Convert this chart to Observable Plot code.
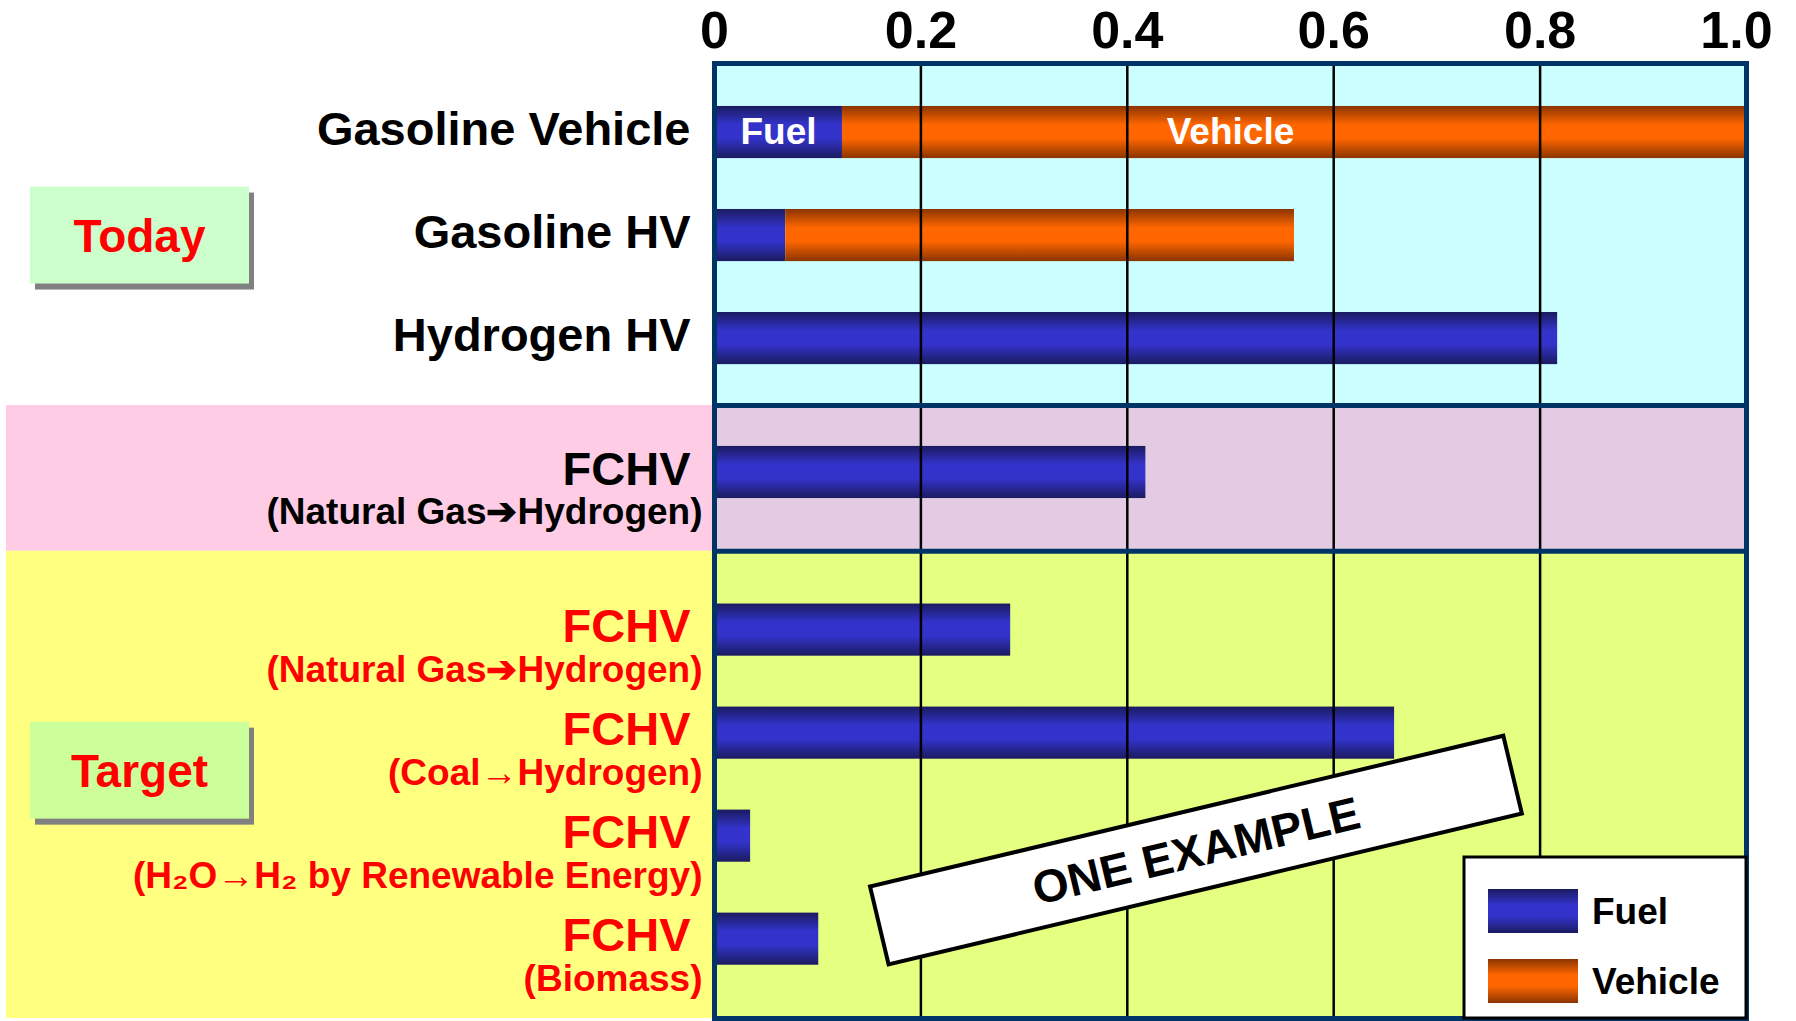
<!DOCTYPE html>
<html>
<head>
<meta charset="utf-8">
<script src="https://cdn.jsdelivr.net/npm/d3@7"></script>
<script src="https://cdn.jsdelivr.net/npm/@observablehq/plot@0.6"></script>
<style>
  html, body { margin: 0; padding: 0; background: #ffffff; }
  #chart { width: 1796px; height: 1021px; }
</style>
</head>
<body>
<div id="chart"></div>
<script>
// ---------------- DATA ----------------
const vehicles = ["Gasoline Vehicle", "Gasoline HV", "Hydrogen HV", "FCHV", "FCHV", "FCHV", "FCHV", "FCHV"];
const pathways = ["", "", "", "(Natural Gas➔Hydrogen)", "(Natural Gas➔Hydrogen)", "(Coal→Hydrogen)", "(H₂O→H₂ by Renewable Energy)", "(Biomass)"];
const sections = ["Today", "Today", "Today", "Current FCHV", "Target", "Target", "Target", "Target"];
const fuelValues = [0.124, 0.069, 0.817, 0.418, 0.287, 0.659, 0.035, 0.101];
const vehicleValues = [0.876, 0.493, 0, 0, 0, 0, 0, 0];
const seriesNames = ["Fuel", "Vehicle"];
const xTicks = [0, 0.2, 0.4, 0.6, 0.8, 1.0];
const xTickLabels = ["0", "0.2", "0.4", "0.6", "0.8", "1.0"];
const sectionNames = ["Today", "Current FCHV", "Target"];
const sectionBoxLabels = ["Today", "", "Target"];
const bannerText = "ONE EXAMPLE";

// ---------------- STYLE / LAYOUT ----------------
const FONT = "'Liberation Sans', Arial, Helvetica, sans-serif";
const NAVY = "#003366";
const plotFills = ["#ccffff", "#e3cce3", "#e5ff80"];
const marginFills = [null, "#ffcce5", "#ffff80"];
const boxFills = ["#ccffcc", null, "#ccff99"];
const labelColors = ["#000000", "#000000", "#ff0000"];
const SECTION_GAPS = [0, 0.3, 0.53]; // extra spacing before each section, in row units
const BAR_HALF = 0.253;   // half bar thickness, in row units
const TOP_PAD = 0.67, BOTTOM_PAD = 0.77;
const BANNER = {x: 0.467, y: 6.97, angle: -13.4, w: 651, h: 80};

// ---------------- DERIVED TABLES ----------------
const sectionOffset = d3.cumsum(SECTION_GAPS);
const sectionIndex = sections.map(s => sectionNames.indexOf(s));
const rows = vehicles.map((v, i) => ({
  i, vehicle: v, pathway: pathways[i], s: sectionIndex[i],
  slot: i + sectionOffset[sectionIndex[i]],
  fuel: fuelValues[i], veh: vehicleValues[i],
  color: labelColors[sectionIndex[i]]
}));
const segs = rows.flatMap(r => [
  {...r, series: seriesNames[0], x1: 0, x2: r.fuel},
  {...r, series: seriesNames[1], x1: r.fuel, x2: r.fuel + r.veh}
]).filter(d => d.x2 > d.x1);

const yTop = d3.min(rows, r => r.slot) - TOP_PAD;
const yBottom = d3.max(rows, r => r.slot) + BOTTOM_PAD;
const sectionExtents = sectionNames.map((name, s) => {
  const sl = rows.filter(r => r.s === s).map(r => r.slot);
  return {name, s, first: d3.min(sl), last: d3.max(sl), mid: (d3.min(sl) + d3.max(sl)) / 2,
          plotFill: plotFills[s], marginFill: marginFills[s], box: boxFills[s], label: sectionBoxLabels[s]};
});
sectionExtents.forEach((e, k) => {
  e.top = k === 0 ? yTop : (sectionExtents[k - 1].last + e.first) / 2;
  e.bottom = k === sectionExtents.length - 1 ? yBottom : (e.last + sectionExtents[k + 1].first) / 2;
});
const boundaries = sectionExtents.slice(1).map(e => e.top);

// ---------------- SVG HELPERS ----------------
const NS = "http://www.w3.org/2000/svg";
function el(tag, attrs = {}, text) {
  const e = document.createElementNS(NS, tag);
  for (const [k, v] of Object.entries(attrs)) e.setAttribute(k, v);
  if (text != null) e.textContent = text;
  return e;
}
function gradient(id, edge, mid) {
  const g = el("linearGradient", {id, x1: 0, y1: 0, x2: 0, y2: 1});
  [[0, edge], [0.36, mid], [0.62, mid], [1, edge]].forEach(([o, c]) =>
    g.appendChild(el("stop", {offset: o, "stop-color": c})));
  return g;
}
const gradIds = ["gradFuel", "gradVehicle"];

function marginDecor(index, scales, values, dim) {
  const g = el("g");
  const defs = el("defs");
  defs.appendChild(gradient(gradIds[0], "#1b1b60", "#3333cc"));
  defs.appendChild(gradient(gradIds[1], "#8a3400", "#ff6600"));
  g.appendChild(defs);
  for (const s of sectionExtents) {
    if (!s.marginFill) continue;
    const y1 = scales.y(s.top), y2 = scales.y(s.bottom);
    g.appendChild(el("rect", {x: 6, y: Math.min(y1, y2), width: dim.marginLeft - 6,
      height: Math.abs(y2 - y1), fill: s.marginFill}));
  }
  return g;
}

function sectionBoxes(index, scales, values, dim) {
  const g = el("g");
  const bx = 30, bw = 219, bh = 97;
  for (const s of sectionExtents) {
    if (!s.box) continue;
    const cy = scales.y(s.mid) - (s.s === 2 ? 14 : 0);
    g.appendChild(el("rect", {x: bx + 5, y: cy - bh / 2 + 6, width: bw, height: bh, fill: "#808080"}));
    g.appendChild(el("rect", {x: bx, y: cy - bh / 2, width: bw, height: bh, fill: s.box}));
    g.appendChild(el("text", {x: bx + bw / 2, y: cy, dy: "0.36em", "text-anchor": "middle",
      fill: "#ff0000", "font-size": 46, "font-weight": "bold", "font-family": FONT}, s.label));
  }
  return g;
}

function banner(index, scales, values, dim) {
  const cx = scales.x(BANNER.x), cy = scales.y(BANNER.y);
  const g = el("g", {transform: `translate(${cx},${cy}) rotate(${BANNER.angle})`});
  g.appendChild(el("rect", {x: -BANNER.w / 2, y: -BANNER.h / 2, width: BANNER.w, height: BANNER.h,
    fill: "#ffffff", stroke: "#000000", "stroke-width": 4}));
  g.appendChild(el("text", {x: 0, y: 0, dy: "0.36em", "text-anchor": "middle", fill: "#000",
    "font-size": 46, "font-weight": "bold", "font-family": FONT}, bannerText));
  return g;
}

function legend(index, scales, values, dim) {
  const right = dim.width - dim.marginRight, bottom = dim.height - dim.marginBottom;
  const w = 282, h = 161;
  const g = el("g", {transform: `translate(${right - w},${bottom - h})`});
  g.appendChild(el("rect", {x: 0, y: 0, width: w, height: h, fill: "#ffffff", stroke: "#000000", "stroke-width": 3}));
  seriesNames.forEach((name, i) => {
    g.appendChild(el("rect", {x: 24, y: 32 + i * 70, width: 90, height: 44, fill: `url(#${gradIds[i]})`}));
    g.appendChild(el("text", {x: 128, y: 54 + i * 70, dy: "0.36em", "text-anchor": "start", fill: "#000",
      "font-size": 37, "font-weight": "bold", "font-family": FONT}, name));
  });
  return g;
}

// ---------------- PLOT ----------------
const textStyle = {fontFamily: FONT, fontWeight: "bold"};
const plot = Plot.plot({
  width: 1796,
  height: 1021,
  marginLeft: 714,
  marginRight: 50,
  marginTop: 63,
  marginBottom: 3,
  style: {fontFamily: FONT, background: "transparent", maxWidth: "none", overflow: "visible"},
  x: {domain: [0, 1], axis: null},
  y: {domain: [yTop, yBottom], reverse: true, axis: null},
  color: {type: "identity"},
  marks: [
    marginDecor,
    Plot.rect(sectionExtents, {x1: 0, x2: 1, y1: "top", y2: "bottom", fill: "plotFill"}),
    Plot.rect(segs.filter(d => d.series === seriesNames[0]), {
      x1: "x1", x2: "x2", y1: d => d.slot - BAR_HALF, y2: d => d.slot + BAR_HALF, fill: `url(#${gradIds[0]})`
    }),
    Plot.rect(segs.filter(d => d.series === seriesNames[1]), {
      x1: "x1", x2: "x2", y1: d => d.slot - BAR_HALF, y2: d => d.slot + BAR_HALF, fill: `url(#${gradIds[1]})`
    }),
    Plot.ruleX(xTicks.filter(t => t > 0 && t < 1), {stroke: "#000000", strokeWidth: 2.5}),
    Plot.ruleY(boundaries, {stroke: NAVY, strokeWidth: 5}),
    Plot.frame({stroke: NAVY, strokeWidth: 5}),
    // in-bar labels on the first bar
    Plot.text(segs.filter(d => d.i === 0), {
      x: d => d.series === seriesNames[0] ? (d.x1 + d.x2) / 2 : (d.fuel + d.veh) / 2,
      y: "slot", text: "series", fill: "#ffffff", fontSize: 37, ...textStyle
    }),
    // top axis tick labels
    Plot.text(xTicks.slice(0, -1), {
      x: d => d, text: (d, i) => xTickLabels[i], frameAnchor: "top", lineAnchor: "middle",
      dy: -32, fontSize: 52, fill: "#000", ...textStyle
    }),
    Plot.text(xTicks.slice(-1), {
      x: d => d, text: () => xTickLabels[xTickLabels.length - 1], frameAnchor: "top", lineAnchor: "middle",
      dy: -32, dx: -10, fontSize: 52, fill: "#000", ...textStyle
    }),
    // category labels
    Plot.text(rows, {
      y: "slot", text: "vehicle", frameAnchor: "left", dx: -24, dy: -3, textAnchor: "end",
      fontSize: 47, fill: "color", ...textStyle
    }),
    Plot.text(rows.filter(r => r.pathway), {
      y: "slot", text: "pathway", frameAnchor: "left", dx: -12, dy: 40, textAnchor: "end",
      fontSize: 37, fill: "color", ...textStyle
    }),
    sectionBoxes,
    banner,
    legend
  ]
});
document.getElementById("chart").appendChild(plot);
</script>
</body>
</html>
